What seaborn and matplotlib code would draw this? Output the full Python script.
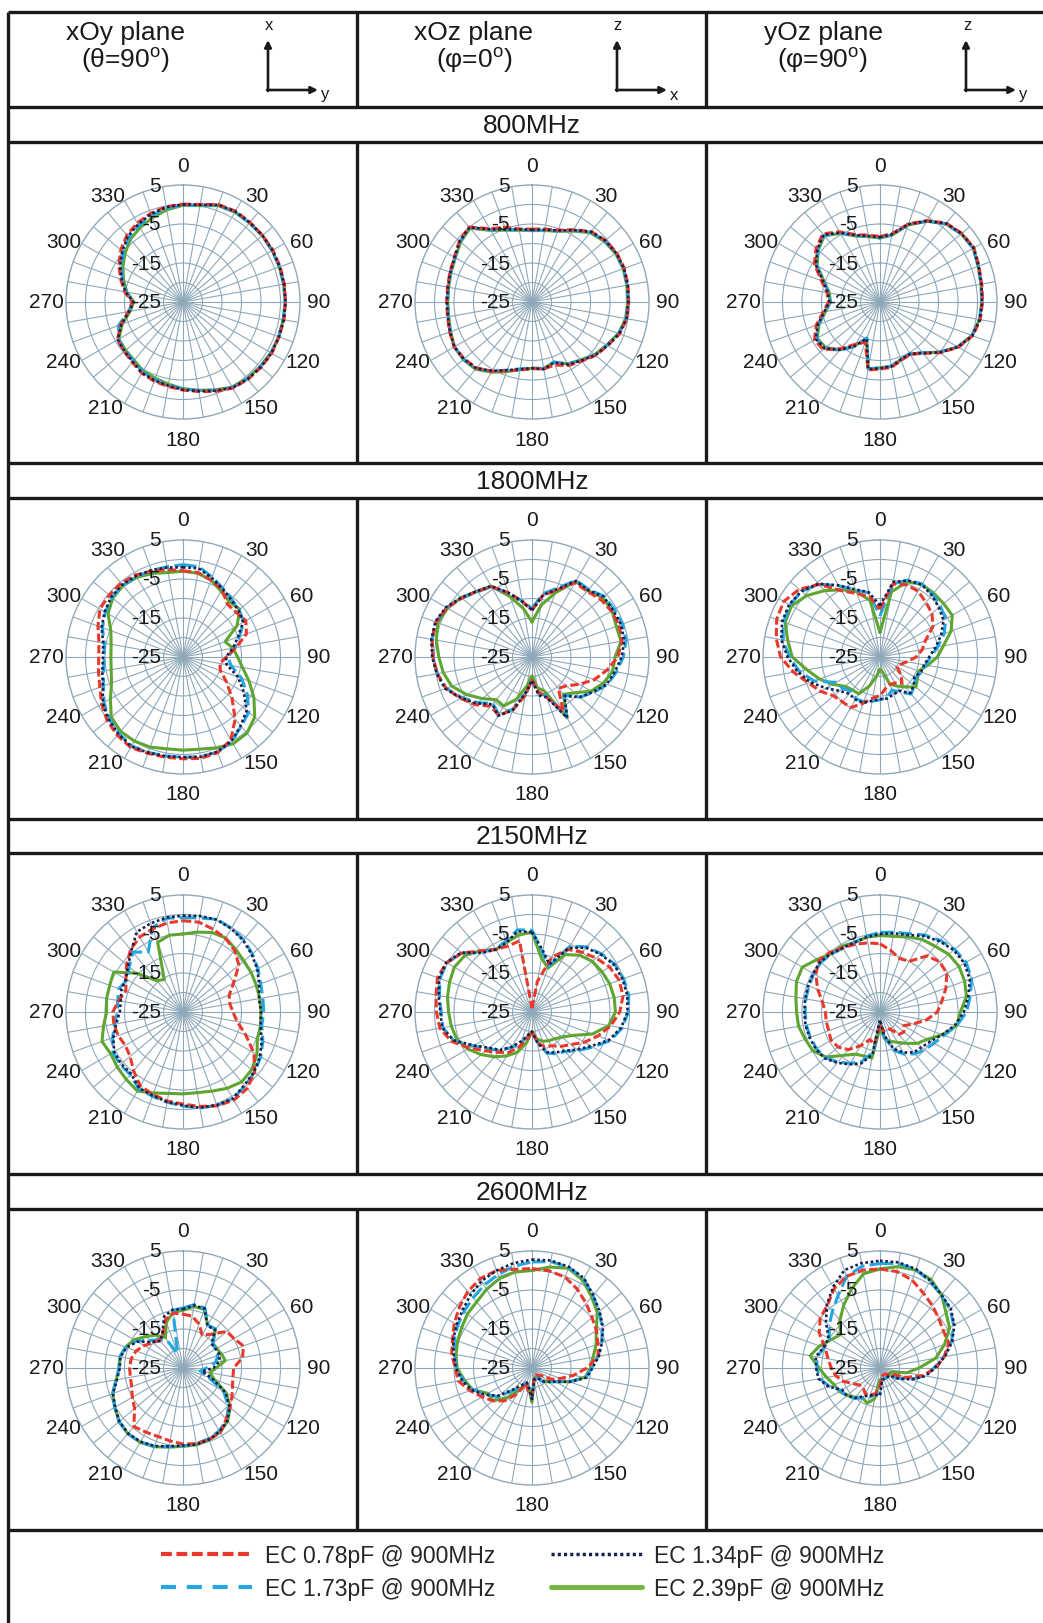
import numpy as np
import pandas as pd
import matplotlib
matplotlib.use('Agg')
import matplotlib.pyplot as plt
from matplotlib.lines import Line2D
import seaborn as sns

sns.set_style('white')
plt.rcParams['font.family'] = ['Liberation Sans', 'DejaVu Sans']
plt.rcParams['mathtext.fontset'] = 'custom'
plt.rcParams['mathtext.rm'] = 'Liberation Sans'

# angles of the radar categories (deg), gain in dB
angles = list(range(0, 360, 10))
freqs = ['800MHz', '1800MHz', '2150MHz', '2600MHz']
planes = ['xOy plane', 'xOz plane', 'yOz plane']
plane_sub = ['(θ=90$^{\\rm o}$)', '(φ=0$^{\\rm o}$)', '(φ=90$^{\\rm o}$)']
axis_up = ['x', 'z', 'z']
axis_right = ['y', 'x', 'y']
series = ['EC 0.78pF @ 900MHz', 'EC 1.73pF @ 900MHz', 'EC 1.34pF @ 900MHz', 'EC 2.39pF @ 900MHz']

# 800MHz
red_A = [0.1, 0.4, 1.6, 1.9, 1.7, 1.6, 1.6, 1.5, 1.4, 1.3, 1.3, 1.2, 1.3, 1.1, 0.9, 0.5, -0.6, -1.7, -2.4, -3.0, -3.4, -3.9, -4.8, -5.3, -5.6, -8.0, -10.8, -12.0, -9.8, -8.0, -6.0, -4.2, -2.6, -1.6, -0.8, -0.2]
blue_A = [-0.1, 0.2, 1.4, 1.7, 1.5, 1.5, 1.4, 1.3, 1.2, 1.2, 1.1, 1.1, 1.1, 0.9, 0.7, 0.3, -0.9, -2.0, -2.7, -3.4, -3.8, -4.3, -5.3, -5.6, -5.9, -7.4, -10.8, -12.2, -10.2, -8.5, -6.7, -5.0, -3.4, -2.4, -1.4, -0.6]
navy_A = [0.0, 0.3, 1.5, 1.8, 1.6, 1.6, 1.5, 1.4, 1.3, 1.3, 1.2, 1.2, 1.2, 1.0, 0.8, 0.4, -0.8, -1.8, -2.5, -3.2, -3.6, -4.0, -5.0, -5.4, -5.7, -8.2, -11.0, -12.3, -10.0, -8.3, -6.4, -4.7, -3.0, -2.0, -1.0, -0.3]
green_A = [-0.2, 0.1, 1.3, 1.6, 1.5, 1.5, 1.4, 1.3, 1.2, 1.2, 1.1, 1.1, 1.0, 0.8, 0.6, 0.2, -1.0, -2.0, -2.8, -3.6, -4.2, -4.6, -5.5, -5.8, -6.0, -8.4, -11.2, -12.4, -10.4, -8.8, -7.2, -5.6, -4.0, -3.0, -2.0, -1.0]

red_B = [-6.3, -6.0, -5.4, -3.6, -1.4, -0.4, 0.1, 0.2, 0.0, -0.2, -0.3, -1.1, -2.6, -3.7, -5.2, -6.2, -7.8, -7.6, -7.9, -7.3, -6.2, -4.5, -2.9, -2.3, -2.0, -2.5, -3.0, -3.1, -3.0, -2.6, -2.0, -0.7, 0.1, -3.3, -4.6, -6.0]
blue_B = [-6.6, -6.3, -5.6, -3.8, -1.6, -0.6, -0.1, 0.0, -0.2, -0.4, -0.5, -1.3, -2.8, -3.9, -5.5, -6.6, -8.6, -7.6, -8.1, -7.6, -6.4, -4.5, -2.7, -2.1, -2.0, -2.7, -3.2, -3.3, -3.2, -2.8, -2.2, -0.9, -0.1, -3.6, -5.3, -6.2]
navy_B = [-6.5, -6.2, -5.5, -3.7, -1.5, -0.5, 0.0, 0.1, -0.1, -0.3, -0.4, -1.2, -2.7, -3.8, -5.4, -6.5, -8.5, -7.5, -8.0, -7.5, -6.4, -4.6, -2.8, -2.2, -2.0, -2.6, -3.1, -3.2, -3.1, -2.7, -2.1, -0.8, 0.0, -3.5, -5.2, -6.1]
green_B = [-6.7, -6.4, -5.7, -4.0, -1.8, -0.8, -0.2, -0.1, -0.3, -0.5, -0.6, -1.4, -2.9, -4.0, -5.6, -6.7, -8.6, -7.7, -8.0, -7.4, -6.0, -4.2, -2.5, -2.0, -2.0, -2.8, -3.3, -3.4, -3.3, -2.9, -2.3, -1.1, -0.3, -3.8, -5.4, -6.3]

red_C = [-8.2, -7.2, -3.7, -0.9, 1.4, 2.4, 2.8, 2.0, 1.5, 1.3, 1.1, 0.3, -1.8, -4.8, -7.8, -9.5, -9.1, -8.0, -7.8, -7.3, -14.0, -12.5, -9.4, -6.0, -5.6, -7.6, -10.2, -11.8, -11.2, -9.0, -5.6, -3.6, -2.2, -4.2, -6.6, -7.6]
blue_C = [-8.5, -7.5, -3.9, -1.1, 1.2, 2.2, 2.6, 1.8, 1.3, 1.1, 0.9, 0.1, -2.0, -5.0, -8.0, -9.7, -9.4, -8.3, -8.1, -7.6, -15.2, -11.8, -8.8, -6.6, -6.2, -8.2, -10.7, -12.2, -11.7, -9.7, -6.2, -4.2, -2.7, -4.6, -6.9, -7.9]
navy_C = [-8.4, -7.4, -3.8, -1.0, 1.3, 2.3, 2.7, 1.9, 1.4, 1.2, 1.0, 0.2, -1.9, -4.9, -7.9, -9.6, -9.3, -8.2, -8.0, -7.5, -15.0, -12.0, -9.0, -6.5, -6.0, -8.0, -10.5, -12.0, -11.5, -9.5, -6.0, -4.0, -2.5, -4.5, -6.8, -7.8]
green_C = [-8.6, -7.6, -4.0, -1.1, 1.2, 2.2, 2.6, 1.8, 1.3, 1.1, 0.9, 0.1, -2.0, -5.0, -8.0, -9.6, -9.3, -8.3, -8.1, -7.6, -15.0, -12.0, -9.0, -6.8, -6.4, -8.4, -10.8, -12.3, -11.8, -9.8, -6.4, -4.3, -2.8, -4.7, -7.0, -8.0]

# 1800MHz
red_D = [-2.9, -3.0, -4.0, -5.0, -7.3, -7.2, -6.4, -7.7, -11.2, -13.9, -15.4, -14.8, -12.1, -8.6, -4.2, -0.5, 1.1, 1.4, 1.1, 1.1, 1.3, 1.8, 1.2, 0.4, -0.9, -2.3, -3.0, -3.4, -3.1, -1.8, -0.4, -0.3, -0.3, -0.7, -1.6, -2.2]
blue_D = [-1.3, -1.5, -3.2, -4.6, -5.6, -6.2, -7.0, -9.6, -11.5, -13.5, -12.5, -9.0, -6.0, -3.0, -1.8, 0.0, 0.9, 1.0, 0.7, 0.8, 1.0, 1.3, 0.6, -0.3, -1.6, -3.3, -4.3, -4.8, -4.5, -3.0, -2.0, -1.2, -1.0, -1.2, -1.4, -1.5]
navy_D = [-2.0, -1.9, -3.4, -4.8, -5.8, -6.4, -7.2, -10.0, -12.0, -14.0, -13.6, -10.0, -7.0, -3.7, -2.0, -0.1, 0.8, 1.0, 0.7, 0.8, 1.1, 1.5, 0.8, -0.1, -1.3, -3.1, -4.0, -4.5, -4.2, -2.8, -1.8, -1.0, -0.8, -1.0, -1.3, -1.7]
green_D = [-3.0, -3.2, -4.0, -5.5, -6.5, -6.0, -9.0, -13.5, -12.0, -11.0, -9.5, -7.0, -4.0, -1.0, 0.5, 0.7, -0.2, -1.0, -1.1, -1.1, -0.4, -0.1, -0.1, -1.0, -3.5, -5.5, -6.3, -6.5, -6.3, -5.3, -2.8, -1.5, -1.1, -1.4, -2.2, -3.0]

red_E = [-13.0, -9.0, -6.8, -3.0, -3.0, -2.0, -1.5, -1.2, -1.6, -3.0, -5.5, -8.0, -11.0, -13.5, -14.5, -9.0, -14.0, -16.0, -19.0, -15.0, -10.5, -7.8, -8.5, -6.0, -3.8, -1.5, -0.3, 0.4, 1.0, 1.2, 0.2, -1.5, -3.0, -4.2, -7.5, -10.5]
blue_E = [-12.5, -8.5, -6.2, -2.3, -2.4, -0.8, -0.6, -0.3, -0.5, -1.6, -3.0, -4.4, -6.8, -9.0, -12.2, -7.2, -14.5, -15.5, -19.0, -15.5, -10.8, -8.0, -9.4, -6.8, -4.2, -1.6, -0.4, 0.4, 1.0, 1.2, 0.3, -1.5, -3.2, -4.2, -7.6, -10.4]
navy_E = [-13.0, -8.9, -6.6, -2.5, -2.6, -1.0, -1.0, -0.7, -1.0, -2.0, -3.4, -4.6, -7.0, -9.0, -12.0, -7.0, -14.0, -15.0, -19.0, -15.7, -10.4, -7.6, -9.2, -6.5, -4.0, -1.3, -0.2, 0.6, 1.2, 1.4, 0.5, -1.3, -3.0, -4.0, -7.5, -10.6]
green_E = [-16.0, -11.5, -7.5, -2.6, -2.8, -1.3, -1.3, -2.0, -1.8, -3.7, -4.0, -5.5, -7.5, -10.7, -12.5, -7.0, -15.7, -17.0, -20.2, -17.5, -13.5, -10.5, -10.7, -8.4, -5.7, -3.1, -1.9, -1.1, -0.1, 0.7, 0.0, -1.3, -3.0, -4.0, -8.5, -12.4]

red_F = [-12.7, -6.0, -5.3, -5.5, -6.7, -7.6, -9.3, -12.6, -14.0, -15.7, -18.0, -19.4, -20.0, -18.0, -16.2, -17.3, -17.5, -16.8, -15.1, -14.3, -12.4, -10.0, -10.0, -9.5, -7.4, -5.5, -2.5, 0.5, 2.0, 3.2, 3.5, 2.0, -0.7, -5.4, -7.7, -9.3]
blue_F = [-14.4, -6.0, -4.0, -3.4, -4.0, -4.8, -5.5, -7.5, -10.0, -12.0, -13.2, -13.6, -14.5, -13.5, -12.6, -14.6, -16.0, -14.5, -14.0, -13.5, -12.8, -12.6, -13.5, -12.5, -12.0, -7.0, -4.0, -1.8, 0.3, 1.3, 1.7, 1.2, -0.6, -3.9, -6.7, -8.3]
navy_F = [-11.8, -5.5, -4.1, -3.6, -4.3, -5.3, -6.2, -8.3, -10.5, -12.4, -13.5, -13.8, -14.8, -13.7, -12.9, -15.0, -14.8, -14.2, -14.2, -13.6, -12.5, -12.4, -12.7, -11.5, -9.0, -6.0, -3.5, -1.3, 0.7, 1.7, 1.9, 1.3, -0.5, -3.8, -6.6, -8.1]
green_F = [-18.7, -8.0, -4.5, -3.5, -3.6, -3.7, -3.6, -5.6, -8.5, -10.3, -12.6, -14.5, -13.9, -13.0, -15.0, -16.4, -17.6, -21.0, -21.9, -20.0, -17.1, -14.1, -14.0, -13.3, -11.0, -8.5, -6.0, -2.5, -1.0, 0.9, 1.2, -0.5, -2.8, -5.1, -7.1, -10.3]

# 2150MHz
red_G = [-1.6, -1.6, -2.4, -3.2, -4.4, -6.3, -10.0, -12.4, -12.8, -12.2, -10.9, -7.9, -4.0, -1.0, 0.6, 1.1, 0.6, -0.4, -1.4, -1.8, -2.5, -3.1, -5.3, -7.3, -7.9, -7.3, -7.0, -7.0, -8.2, -9.4, -8.1, -6.1, -4.1, -2.8, -2.3, -1.8]
blue_G = [-0.8, -0.5, 0.3, -0.2, -0.8, -1.8, -2.8, -3.8, -4.2, -4.3, -4.5, -3.2, -2.0, -1.0, -0.3, 0.7, 0.5, 0.0, -0.9, -1.5, -2.0, -2.3, -4.0, -4.0, -4.3, -5.8, -7.2, -8.2, -8.0, -7.5, -8.5, -7.0, -5.0, -7.2, -2.0, -0.6]
navy_G = [-0.3, 0.0, 0.2, -0.3, -1.0, -2.0, -3.0, -4.2, -5.2, -5.0, -4.8, -3.5, -2.2, -1.2, -0.5, 0.6, 0.4, -0.1, -1.0, -1.6, -2.2, -2.5, -4.3, -4.3, -4.6, -6.0, -7.6, -8.8, -8.8, -8.2, -8.1, -6.6, -4.4, -1.3, -0.8, -0.4]
green_G = [-5.0, -4.2, -3.3, -3.1, -4.0, -4.6, -4.8, -5.0, -5.0, -5.0, -4.8, -4.7, -3.1, -2.0, -1.6, -2.4, -3.4, -4.0, -4.0, -3.8, -2.9, -1.6, -2.4, -3.0, -3.6, -2.9, -4.3, -5.4, -5.1, -5.0, -4.5, -9.5, -14.5, -15.4, -6.0, -5.0]

red_H = [-24.0, -17.0, -10.0, -6.5, -5.0, -3.5, -2.0, -1.2, -1.3, -2.5, -4.5, -7.0, -9.5, -12.0, -13.5, -15.0, -15.5, -17.0, -20.0, -18.0, -15.5, -13.0, -11.5, -9.5, -6.5, -3.0, -1.0, -0.5, 0.0, 0.8, 0.3, -1.5, -4.5, -6.5, -7.0, -6.5]
blue_H = [-4.0, -9.5, -12.5, -5.5, -3.2, -1.8, -0.5, 0.0, 0.2, -0.3, -1.5, -3.6, -7.0, -9.6, -11.8, -12.6, -13.8, -17.2, -20.0, -18.6, -16.6, -14.5, -12.0, -10.4, -7.6, -3.6, -1.8, -1.7, -0.9, 0.1, 0.2, -1.5, -5.0, -6.3, -5.6, -3.6]
navy_H = [-4.5, -9.0, -12.0, -6.0, -3.5, -2.0, -0.7, -0.3, -0.2, -0.5, -1.8, -4.0, -7.5, -10.0, -12.0, -13.0, -14.0, -17.0, -20.0, -19.0, -17.0, -14.7, -12.3, -10.7, -7.8, -3.7, -1.6, -1.5, -0.7, 0.3, 0.4, -1.3, -5.2, -6.5, -6.0, -4.0]
green_H = [-4.5, -11.0, -13.0, -8.0, -6.0, -4.8, -4.3, -3.8, -3.6, -3.6, -5.0, -8.5, -13.0, -15.0, -16.0, -16.5, -17.0, -18.0, -20.0, -17.0, -14.0, -12.0, -10.0, -8.0, -6.0, -4.5, -4.0, -3.6, -3.0, -2.5, -2.0, -2.5, -4.5, -6.5, -6.0, -5.0]

red_I = [-7.5, -9.0, -10.4, -10.0, -6.2, -5.0, -5.2, -7.0, -8.9, -10.3, -13.0, -16.0, -18.0, -17.0, -17.5, -20.0, -20.0, -20.0, -22.0, -16.5, -17.5, -15.0, -12.4, -11.0, -10.5, -11.0, -11.0, -11.0, -10.0, -8.0, -6.0, -4.5, -5.0, -6.0, -6.5, -7.0]
blue_I = [-4.6, -4.2, -3.6, -2.2, -1.0, 0.0, 0.5, 0.0, -1.5, -2.8, -5.0, -7.5, -9.0, -10.0, -11.0, -12.5, -14.5, -18.5, -22.0, -14.5, -11.5, -9.8, -8.2, -6.8, -6.2, -6.0, -5.8, -5.8, -5.7, -5.6, -5.4, -5.2, -5.6, -6.1, -6.0, -5.2]
navy_I = [-5.0, -4.5, -4.0, -2.5, -1.3, -0.3, 0.0, -0.5, -2.0, -3.5, -5.5, -8.0, -10.0, -11.0, -11.5, -13.0, -15.0, -19.0, -23.0, -14.0, -11.0, -9.5, -8.0, -6.5, -6.0, -5.8, -5.6, -5.6, -5.5, -5.4, -5.2, -5.0, -5.5, -6.0, -6.0, -5.5]
green_I = [-5.4, -5.3, -4.5, -3.5, -3.0, -2.0, -1.6, -1.9, -2.5, -4.4, -5.0, -8.0, -11.0, -12.5, -14.5, -16.0, -17.0, -18.0, -21.0, -13.0, -13.0, -12.5, -10.5, -7.0, -5.1, -4.6, -3.8, -3.6, -3.1, -2.2, -2.0, -4.0, -5.5, -5.5, -6.0, -5.5]

# 2600MHz
red_J = [-11.2, -11.5, -13.0, -15.2, -13.7, -10.4, -9.9, -8.5, -9.5, -12.0, -12.0, -11.5, -10.5, -9.3, -7.8, -5.9, -5.5, -5.3, -5.5, -6.0, -6.3, -6.0, -5.4, -8.8, -10.0, -11.0, -11.3, -11.3, -11.5, -12.2, -13.5, -14.9, -15.7, -14.8, -11.8, -10.7]
blue_J = [-9.6, -8.5, -8.6, -12.3, -12.0, -15.0, -15.5, -15.5, -16.5, -19.0, -20.5, -18.0, -13.0, -9.8, -7.6, -6.4, -5.7, -5.3, -5.0, -4.5, -3.6, -3.1, -3.0, -3.6, -4.8, -5.8, -7.6, -8.6, -8.5, -9.4, -11.2, -14.0, -15.5, -17.0, -21.0, -10.0]
navy_J = [-9.9, -8.7, -8.8, -12.5, -12.2, -15.4, -15.3, -15.0, -15.6, -17.2, -20.0, -17.0, -12.4, -9.4, -7.3, -6.2, -5.5, -5.1, -5.1, -4.6, -3.7, -3.2, -3.1, -3.7, -4.9, -5.9, -7.8, -8.8, -8.7, -9.6, -11.5, -14.6, -16.0, -14.5, -10.9, -9.8]
green_J = [-10.2, -9.0, -9.0, -12.3, -12.0, -15.0, -15.0, -14.5, -14.0, -16.5, -18.0, -16.5, -12.2, -9.2, -7.2, -6.0, -5.4, -5.0, -4.9, -4.4, -3.5, -3.0, -3.0, -3.6, -4.8, -5.8, -7.6, -8.6, -8.6, -9.3, -10.5, -12.5, -14.0, -16.0, -12.5, -10.5]

red_K = [0.5, 0.3, -0.2, -1.7, -3.4, -4.9, -5.9, -7.0, -7.8, -10.9, -14.2, -17.2, -19.2, -22.0, -22.5, -23.0, -23.0, -22.0, -18.0, -19.0, -20.9, -17.3, -14.0, -11.9, -10.2, -8.1, -5.8, -5.3, -4.1, -3.3, -2.0, -0.7, 0.6, 1.5, 1.6, 0.7]
blue_K = [2.2, 2.7, 2.5, 1.5, -0.7, -2.5, -4.2, -6.0, -7.8, -9.7, -11.0, -14.7, -18.0, -19.5, -20.5, -22.0, -22.0, -22.0, -17.5, -20.0, -21.0, -19.5, -17.5, -13.5, -11.5, -8.8, -7.0, -5.6, -4.8, -3.8, -3.0, -2.3, -1.5, -0.5, 0.5, 1.5]
navy_K = [2.8, 3.0, 2.6, 1.6, -0.6, -2.4, -4.0, -5.9, -7.6, -9.5, -10.8, -14.7, -18.0, -19.5, -20.5, -22.0, -22.0, -22.0, -17.0, -20.0, -21.0, -20.0, -18.0, -14.0, -11.2, -8.5, -6.8, -5.5, -4.6, -3.5, -2.7, -1.8, -0.5, 0.8, 1.6, 2.3]
green_K = [0.0, 1.3, 2.2, 1.0, -1.2, -3.1, -6.0, -7.5, -9.1, -10.0, -11.2, -14.7, -18.0, -19.5, -20.5, -22.0, -22.5, -22.0, -16.2, -20.0, -21.0, -18.5, -15.0, -12.0, -12.0, -8.8, -7.4, -5.8, -5.2, -4.7, -4.2, -3.4, -2.9, -1.7, -0.6, 0.0]

red_L = [0.4, 0.1, -1.0, -2.8, -4.1, -5.3, -6.2, -6.2, -8.3, -10.6, -13.9, -17.9, -22.0, -22.5, -23.0, -23.0, -23.0, -22.0, -20.5, -18.3, -17.7, -17.4, -18.3, -18.2, -17.0, -15.0, -13.5, -12.5, -11.5, -10.0, -7.0, -5.0, -4.0, -1.5, 0.0, 0.5]
blue_L = [1.8, 2.2, 1.8, 0.7, -0.6, -1.5, -3.2, -5.5, -8.3, -11.2, -13.3, -16.6, -19.8, -22.0, -22.0, -22.0, -22.0, -22.0, -18.5, -18.2, -17.0, -16.2, -14.8, -13.8, -13.5, -11.2, -9.3, -8.8, -8.6, -9.8, -10.0, -8.0, -6.0, -3.5, 0.0, 1.5]
navy_L = [2.5, 2.5, 2.0, 0.8, -0.5, -1.3, -3.0, -5.3, -8.1, -11.0, -13.1, -16.4, -19.6, -22.0, -22.0, -22.0, -22.0, -22.0, -17.9, -18.0, -17.5, -16.6, -15.0, -14.0, -13.8, -11.0, -9.0, -8.6, -8.3, -9.6, -9.8, -6.9, -3.8, -1.0, 1.7, 2.3]
green_L = [0.4, 1.4, 1.7, 1.2, -0.5, -2.9, -4.4, -7.4, -10.5, -15.0, -18.0, -22.0, -22.0, -22.0, -22.0, -22.0, -22.0, -22.0, -22.0, -17.0, -15.4, -16.1, -15.2, -14.0, -13.0, -12.5, -11.1, -9.4, -6.8, -8.5, -10.5, -11.7, -9.0, -6.4, -3.5, -0.5]

panels = [
    [(red_A, blue_A, navy_A, green_A), (red_B, blue_B, navy_B, green_B), (red_C, blue_C, navy_C, green_C)],
    [(red_D, blue_D, navy_D, green_D), (red_E, blue_E, navy_E, green_E), (red_F, blue_F, navy_F, green_F)],
    [(red_G, blue_G, navy_G, green_G), (red_H, blue_H, navy_H, green_H), (red_I, blue_I, navy_I, green_I)],
    [(red_J, blue_J, navy_J, green_J), (red_K, blue_K, navy_K, green_K), (red_L, blue_L, navy_L, green_L)],
]

colors = dict(zip(series, ['#e8392c', '#24a6e0', '#17204f', '#5ea531']))
dashes = dict(zip(series, [(2.7, 1.1), (4.4, 1.7), (1.0, 1.0), '']))
widths = dict(zip(series, [2.2, 2.2, 1.9, 2.2]))
draw_order = [series[3], series[1], series[0], series[2]]


def panel_frame(red, blue, navy, green):
    parts = []
    for name, vals in zip(series, (red, blue, navy, green)):
        parts.append(pd.DataFrame({
            'theta': np.deg2rad(angles + [360]),
            'gain': list(vals) + [vals[0]],
            'series': name,
        }))
    return pd.concat(parts, ignore_index=True)


W, H = 1043, 1624
R = 117
col_left = [8, 357, 706]
col_cx = [183, 532, 880]
row_cy = [303, 658, 1013, 1369]
freq_y = [126, 482, 837, 1193]
grid_col = '#8fa8b9'
ink = '#1a1a1a'
# where Excel puts the angle labels around each chart (pixel offsets from the centre)
lab_dx = {0: 0, 30: 74, 60: 119, 90: 136, 120: 120, 150: 78, 180: 0,
          210: -78, 240: -120, 270: -137, 300: -119, 330: -75}
lab_dy = {0: -137, 30: -107, 60: -61, 90: 0, 120: 60, 150: 106, 180: 137,
          210: 106, 240: 60, 270: 0, 300: -61, 330: -107}

fig = plt.figure(figsize=(W / 100, H / 100), dpi=100)

for i in range(4):
    for j in range(3):
        cx, cy = col_cx[j], row_cy[i]
        ax = fig.add_axes([(cx - R) / W, 1 - (cy + R) / H, 2 * R / W, 2 * R / H], projection='polar')
        df = panel_frame(*panels[i][j])
        sns.lineplot(data=df, x='theta', y='gain', hue='series', style='series', size='series',
                     hue_order=draw_order, style_order=draw_order, size_order=draw_order,
                     palette=colors, dashes=dashes, sizes=widths,
                     sort=False, estimator=None, legend=False, ax=ax)
        ax.set_theta_zero_location('N')
        ax.set_theta_direction(-1)
        ax.set_xlim(0, 2 * np.pi)
        ax.set_ylim(-25, 5)
        ax.set_xticks(np.deg2rad(angles))
        ax.set_xticklabels([])
        ax.set_yticks([-20, -15, -10, -5, 0])
        ax.set_yticklabels([])
        ax.tick_params(length=0)
        ax.grid(True, color=grid_col, lw=0.8)
        ax.spines['polar'].set_color(grid_col)
        ax.spines['polar'].set_linewidth(1.0)
        ax.set_xlabel('')
        ax.set_ylabel('')

# table frame, header and labels drawn on a transparent overlay in pixel units
bg = fig.add_axes([0, 0, 1, 1], zorder=10)
bg.set_xlim(0, W)
bg.set_ylim(H, 0)
bg.axis('off')

lw_tab = 2.4
bg.hlines([13, 108, 143, 464, 499, 820, 854, 1175, 1210, 1531], 8, W, color=ink, lw=lw_tab)
bg.vlines([8], 13, H, color=ink, lw=lw_tab)
for top, bot in [(13, 108), (143, 464), (499, 820), (854, 1175), (1210, 1531)]:
    bg.vlines([357, 706], top, bot, color=ink, lw=lw_tab)

for j in range(3):
    x0 = col_left[j]
    bg.text(x0 + 117, 33, planes[j], ha='center', va='center', fontsize=19, color=ink)
    bg.text(x0 + 117, 60, plane_sub[j], ha='center', va='center', fontsize=19, color=ink)
    ox, oy = x0 + 260, 91
    bg.annotate('', xy=(ox, 41), xytext=(ox, oy + 1),
                arrowprops=dict(arrowstyle='-|>', lw=1.9, color=ink, mutation_scale=10, shrinkA=0, shrinkB=0))
    bg.annotate('', xy=(ox + 50, oy), xytext=(ox - 1, oy),
                arrowprops=dict(arrowstyle='-|>', lw=1.9, color=ink, mutation_scale=10, shrinkA=0, shrinkB=0))
    bg.text(ox + 1, 26, axis_up[j], ha='center', va='center', fontsize=12, color=ink)
    bg.text(ox + 57, 95, axis_right[j], ha='center', va='center', fontsize=12, color=ink)

for i in range(4):
    bg.text(532, freq_y[i], freqs[i], ha='center', va='center', fontsize=19, color=ink)
    for j in range(3):
        cx, cy = col_cx[j], row_cy[i]
        for a in range(0, 360, 30):
            bg.text(cx + lab_dx[a], cy + lab_dy[a], str(a),
                    ha='center', va='center', fontsize=15, color=ink)
        for v in [5, -5, -15, -25]:
            bg.text(cx - 22, cy - (v + 25) / 30 * R, str(v), ha='right', va='center', fontsize=15, color=ink)

handles = [
    Line2D([], [], color=colors[series[0]], lw=3, linestyle=(0, (2.6, 1.1))),
    Line2D([], [], color=colors[series[1]], lw=3, linestyle=(0, (3.6, 2.6))),
    Line2D([], [], color=colors[series[2]], lw=2.5, linestyle=(0, (0.9, 0.9))),
    Line2D([], [], color='#72b53e', lw=3.5),
]
fig.legend(handles, series, loc='center', bbox_to_anchor=(523 / W, 1 - 1573 / H), ncol=2,
           frameon=False, fontsize=16.5, handlelength=3.97, handletextpad=0.54,
           columnspacing=2.44, labelspacing=0.42)

fig.savefig('out.png', dpi=100)
